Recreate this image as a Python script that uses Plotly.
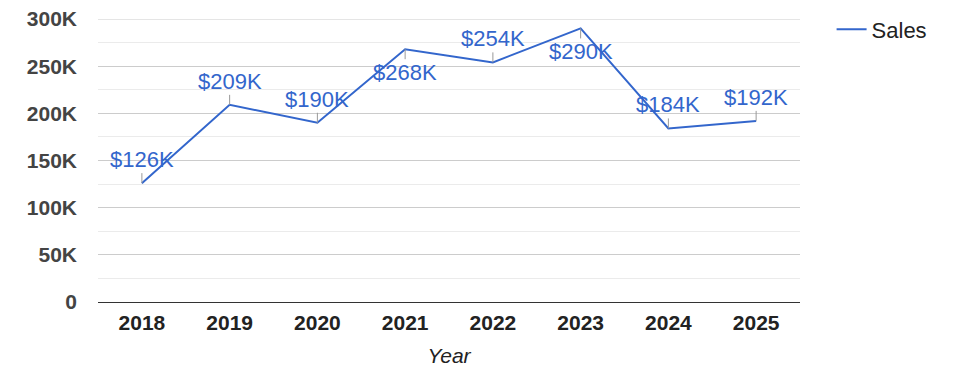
import plotly.graph_objects as go

years = ["2018", "2019", "2020", "2021", "2022", "2023", "2024", "2025"]
sales = [126000, 209000, 190000, 268000, 254000, 290000, 184000, 192000]
labels = ["$126K", "$209K", "$190K", "$268K", "$254K", "$290K", "$184K", "$192K"]
label_below = [False, False, False, True, False, True, False, False]
y_tickvals = [0, 50000, 100000, 150000, 200000, 250000, 300000]
y_ticktext = ["0", "50K", "100K", "150K", "200K", "250K", "300K"]

BLUE = "#3366cc"
FONT = "Arial, Liberation Sans, sans-serif"

fig = go.Figure()
fig.add_trace(go.Scatter(
    x=years, y=sales, mode="lines", name="Sales",
    line=dict(color=BLUE, width=2),
))

for i, (yv, t, below) in enumerate(zip(sales, labels, label_below)):
    fig.add_annotation(
        x=i, y=yv, text=t, showarrow=True, arrowhead=0, arrowwidth=1,
        arrowcolor="#999999", ax=0, ay=(10 if below else -10),
        yanchor=("top" if below else "bottom"), xanchor="center",
        font=dict(family=FONT, size=22, color=BLUE),
        borderpad=0,
    )

# top gridline at the upper end of the axis (plotly skips it at the edge)
fig.add_hline(y=y_tickvals[-1], line=dict(color="#cccccc", width=1), layer="below")

fig.update_layout(
    width=975, height=378,
    margin=dict(l=98, r=175, t=19, b=76, autoexpand=False),
    plot_bgcolor="white", paper_bgcolor="white",
    font=dict(family=FONT, color="#222222"),
    showlegend=True,
    legend=dict(x=1.045, y=1.037, xanchor="left", yanchor="top",
                font=dict(size=22, color="#222222"), bgcolor="rgba(0,0,0,0)"),
    xaxis=dict(
        type="category", automargin=False,
        range=[-0.5, 7.5], showgrid=False, showline=True, linecolor="#333333",
        linewidth=1, ticks="", tickfont=dict(size=21, color="#222222", weight="bold"),
        ticklabelstandoff=2,
        title=dict(text="<i>Year</i>", font=dict(size=21, color="#222222"), standoff=15),
        fixedrange=True,
    ),
    yaxis=dict(
        range=[0, 300000], tickvals=y_tickvals, ticktext=y_ticktext, automargin=False,
        showgrid=True, gridcolor="#cccccc", gridwidth=1, zeroline=False,
        minor=dict(dtick=25000, showgrid=True, gridcolor="#ebebeb", gridwidth=1),
        tickfont=dict(size=21, color="#444444", weight="bold"),
        ticks="", ticklabelstandoff=20,
    ),
)

fig.write_html("out.html", config={"displayModeBar": False},
               post_script="document.body.style.margin='0';")
